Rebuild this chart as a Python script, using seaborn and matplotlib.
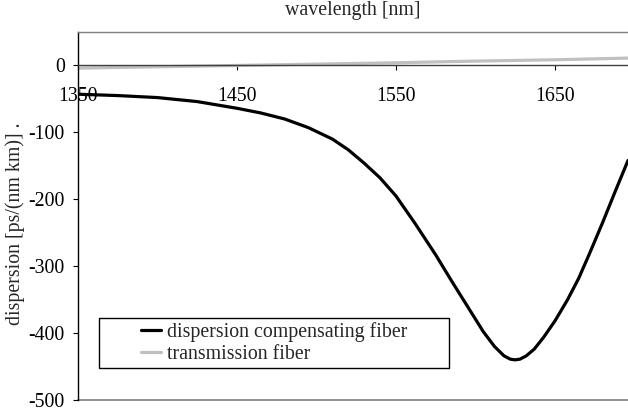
import matplotlib
matplotlib.use("Agg")
import matplotlib.pyplot as plt
import seaborn as sns
import pandas as pd
from matplotlib.patches import Rectangle

# ---- data ----
wl_dcf = [1350, 1375, 1400, 1425, 1450, 1465, 1480, 1495, 1510, 1520, 1530, 1540,
          1550, 1562, 1575, 1585, 1595, 1605, 1612, 1618, 1622, 1625, 1628, 1632,
          1637, 1643, 1650, 1658, 1665, 1672, 1680, 1688, 1696]
disp_dcf = [-43, -45, -48, -54, -64, -71, -80, -93, -110, -126, -146, -168,
            -195, -236, -283, -322, -360, -398, -420, -434, -439, -440, -439, -434,
            -424, -406, -382, -350, -318, -280, -235, -188, -142]
wl_tf = [1350, 1400, 1450, 1500, 1550, 1600, 1650, 1696]
disp_tf = [-4, -2, 0, 2, 4, 6.5, 8.5, 11]
series_names = ["dispersion compensating fiber", "transmission fiber"]
series_colors = ["#000000", "#c0c0c0"]
x_ticks = [1350, 1450, 1550, 1650]
y_ticks = [0, -100, -200, -300, -400, -500]
x_label = "wavelength [nm]"
y_label = "dispersion [ps/(nm km)] ."

df = pd.concat([
    pd.DataFrame({"wl": wl_dcf, "disp": disp_dcf, "series": series_names[0]}),
    pd.DataFrame({"wl": wl_tf, "disp": disp_tf, "series": series_names[1]}),
])

sns.set_theme(style="white")
plt.rcParams['font.family'] = ['Liberation Serif', 'DejaVu Serif']
FS = 14.3

W, H = 628, 413
fig = plt.figure(figsize=(W / 100, H / 100), dpi=100)
L, R, T, B = 78, 628, 32, 400
ax = fig.add_axes([L / W, (H - B) / H, (R - L) / W, (B - T) / H])

sns.lineplot(data=df, x="wl", y="disp", hue="series", hue_order=series_names,
             palette=dict(zip(series_names, series_colors)), sort=False,
             linewidth=2.3, ax=ax, legend=False, estimator=None)

ax.spines['bottom'].set_position(('data', 0))
ax.spines['bottom'].set_color('#404040')
ax.spines['bottom'].set_linewidth(1.0)
ax.spines['right'].set_visible(False)
ax.spines['top'].set_color('#808080')
ax.spines['top'].set_linewidth(1.0)
ax.spines['left'].set_color('#000000')
ax.spines['left'].set_linewidth(1.0)
ax.axhline(-500, color='#808080', lw=1.2, clip_on=False, zorder=0)

ax.set_xlim(1350, 1696)
ax.set_ylim(-500, 50)
ax.set_xticks(x_ticks)
ax.set_yticks(y_ticks)
ax.set_xticklabels([str(v) for v in x_ticks])
ax.set_yticklabels([str(v) for v in y_ticks])
ax.set_xlabel("")
ax.set_ylabel(y_label, fontsize=FS)
ax.yaxis.set_label_coords(-0.096, 0.48)

ax.tick_params(axis='x', direction='out', length=3.6, width=0.8, color='#000000',
               pad=12, labelcolor='black', labelsize=FS, bottom=True)
ax.tick_params(axis='y', direction='out', length=3.6, width=0.8, color='#000000',
               pad=6, labelcolor='black', labelsize=FS, left=True)

fig.text((L + R) / 2 / W, 1 - 11 / H, x_label, ha='center', va='center', fontsize=FS)

# legend
handles = [plt.Line2D([], [], color=c, lw=2.3) for c in series_colors]
leg = ax.legend(handles, series_names, loc='center',
                bbox_to_anchor=(0.356, 0.155), frameon=False, fontsize=FS,
                handlelength=1.0, handletextpad=0.3, labelspacing=0.15,
                borderpad=0.2)
ax.add_patch(Rectangle((0.038, 0.087), 0.636, 0.136, transform=ax.transAxes,
                       fill=True, facecolor='white', edgecolor='black', lw=1.0,
                       zorder=4))
leg.set_zorder(5)

fig.savefig("out.png", dpi=100)
